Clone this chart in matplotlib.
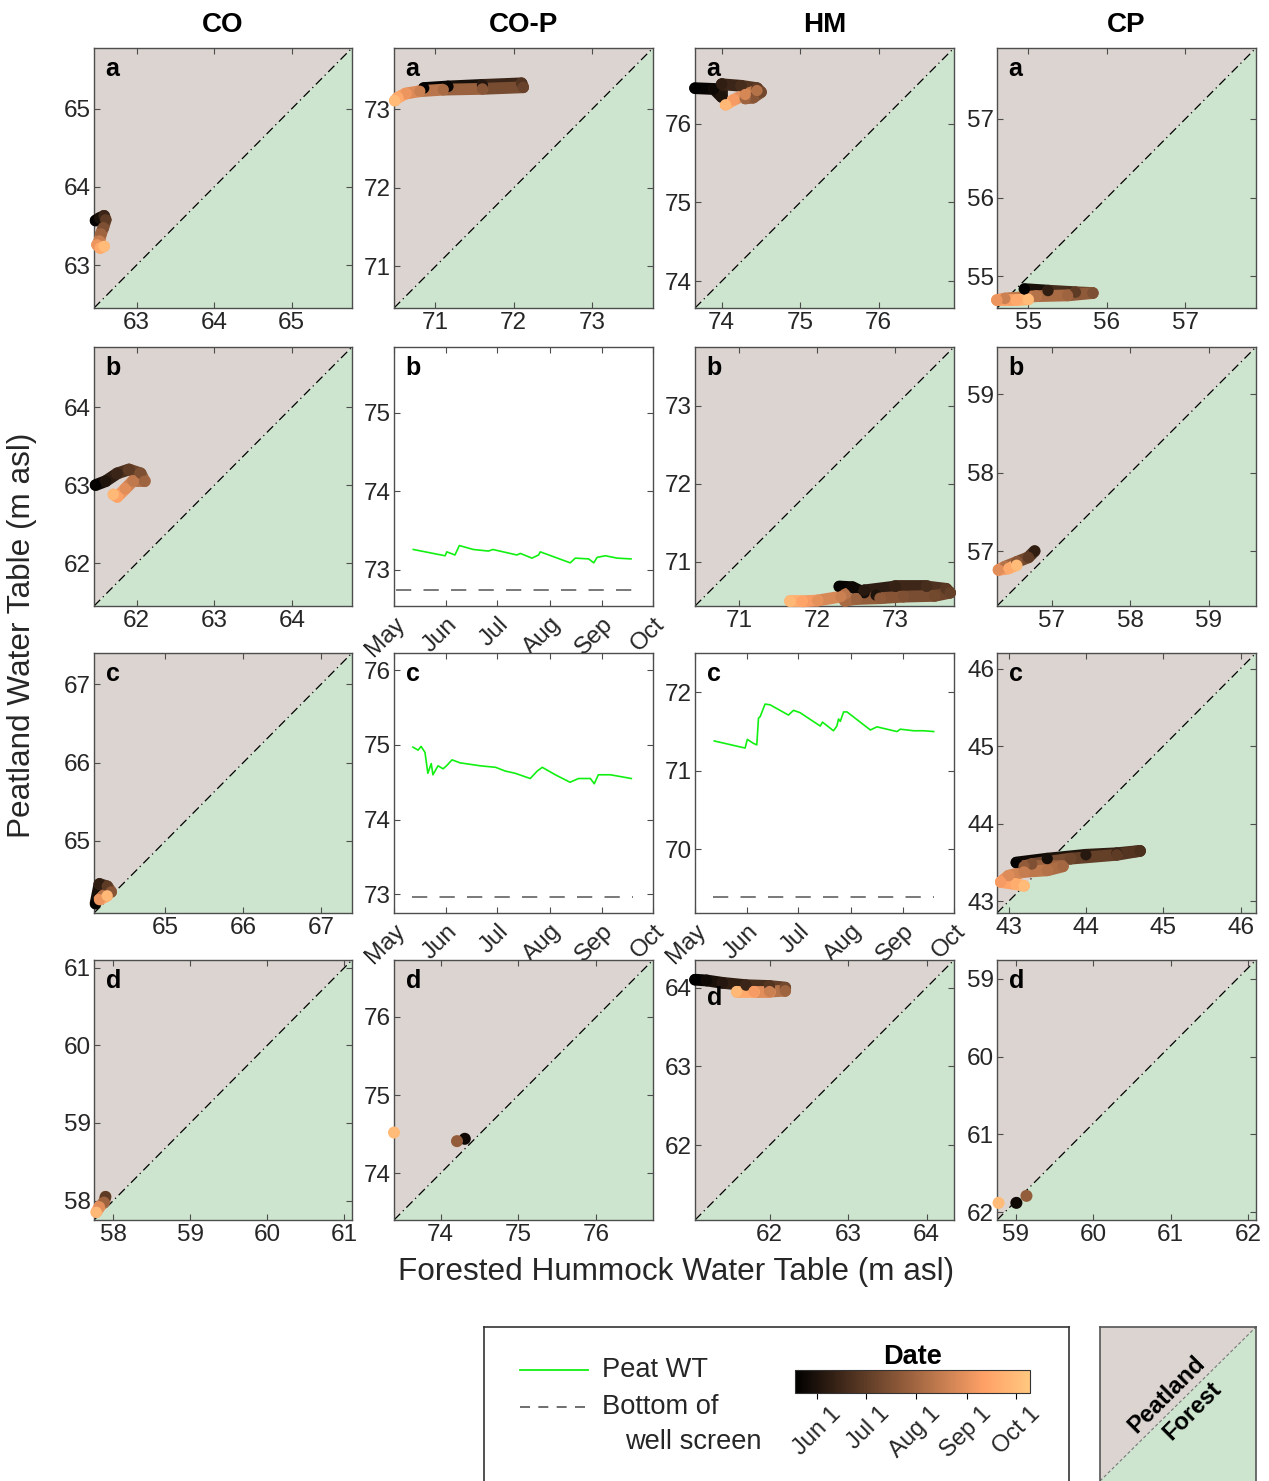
import numpy as np
import matplotlib
matplotlib.use("Agg")
import matplotlib.pyplot as plt
import matplotlib.transforms as mtransforms
from matplotlib.collections import LineCollection
from matplotlib.colors import Normalize
from matplotlib.cm import ScalarMappable

plt.rcParams['font.family'] = ['Liberation Sans', 'DejaVu Sans']

# ---------------------------------------------------------------- data
# Days are counted from May 1.
SITES = ['CO', 'CO-P', 'HM', 'CP']
ROWS = ['a', 'b', 'c', 'd']
MONTHS = ['May', 'Jun', 'Jul', 'Aug', 'Sep', 'Oct']
MONTH_DAYS = [0, 31, 61, 92, 123, 153]
CBAR_LABELS = ['Jun 1', 'Jul 1', 'Aug 1', 'Sep 1', 'Oct 1']

# forested hummock WT (x), peatland WT (y), day of each observation
CO_a_forest = [62.47, 62.52, 62.58, 62.60, 62.57, 62.54, 62.52, 62.49, 62.53, 62.58]
CO_a_peat = [63.57, 63.60, 63.63, 63.58, 63.48, 63.40, 63.31, 63.26, 63.22, 63.24]
CO_a_day = [20, 30, 45, 60, 75, 90, 108, 125, 140, 152]

COP_a_forest = [70.85, 71.16, 71.60, 72.10, 72.12, 71.60, 71.10, 70.80, 70.62, 70.52, 70.48]
COP_a_peat = [73.27, 73.29, 73.31, 73.33, 73.28, 73.26, 73.25, 73.23, 73.20, 73.15, 73.11]
COP_a_day = [18, 22, 35, 55, 65, 80, 95, 110, 125, 140, 152]

HM_a_forest = [73.66, 73.90, 74.00, 74.00, 74.25, 74.45, 74.50, 74.40, 74.30, 74.45, 74.30, 74.15, 74.05]
HM_a_peat = [76.45, 76.44, 76.34, 76.50, 76.48, 76.45, 76.40, 76.33, 76.32, 76.42, 76.37, 76.30, 76.24]
HM_a_day = [18, 25, 32, 40, 50, 60, 70, 80, 90, 100, 115, 130, 150]

CP_a_forest = [54.95, 55.25, 55.60, 55.82, 55.50, 55.10, 54.70, 54.60, 54.85, 55.00]
CP_a_peat = [54.84, 54.82, 54.80, 54.79, 54.76, 54.75, 54.72, 54.70, 54.70, 54.71]
CP_a_day = [18, 40, 60, 75, 90, 100, 110, 125, 140, 152]

CO_b_forest = [61.47, 61.60, 61.75, 61.90, 62.05, 62.10, 61.95, 61.85, 61.75, 61.70]
CO_b_peat = [63.00, 63.05, 63.15, 63.20, 63.15, 63.05, 63.05, 62.95, 62.85, 62.88]
CO_b_day = [20, 32, 45, 60, 75, 90, 105, 120, 135, 150]

HM_b_forest = [72.28, 72.45, 72.60, 72.75, 72.60, 73.00, 73.40, 73.65, 73.70, 73.50,
               73.10, 72.80, 72.50, 72.35, 72.35, 72.30, 72.00, 71.80, 71.65]
HM_b_peat = [70.68, 70.67, 70.60, 70.57, 70.63, 70.68, 70.68, 70.65, 70.60, 70.56,
             70.55, 70.53, 70.52, 70.50, 70.58, 70.55, 70.50, 70.49, 70.49]
HM_b_day = [20, 24, 28, 32, 36, 42, 50, 58, 64, 70, 76, 82, 88, 95, 102, 110, 122, 136, 150]

CP_b_forest = [56.78, 56.70, 56.55, 56.40, 56.32, 56.45, 56.55]
CP_b_peat = [57.00, 56.92, 56.86, 56.80, 56.76, 56.78, 56.82]
CP_b_day = [40, 60, 80, 100, 120, 140, 152]

CO_c_forest = [64.10, 64.15, 64.25, 64.30, 64.20, 64.15, 64.25]
CO_c_peat = [64.20, 64.45, 64.42, 64.35, 64.30, 64.25, 64.30]
CO_c_day = [20, 40, 60, 80, 100, 125, 150]

CP_c_forest = [43.10, 43.50, 44.00, 44.40, 44.70, 44.40, 43.80, 43.30, 43.20, 43.70,
               43.50, 43.20, 43.00, 42.90, 43.10, 43.20]
CP_c_peat = [43.50, 43.55, 43.60, 43.62, 43.65, 43.60, 43.55, 43.48, 43.45, 43.45,
             43.40, 43.38, 43.33, 43.25, 43.22, 43.20]
CP_c_day = [20, 28, 36, 44, 52, 60, 68, 76, 84, 92, 100, 108, 118, 130, 142, 152]

CO_d_forest = [57.90, 57.88, 57.82, 57.78]
CO_d_peat = [58.05, 57.98, 57.92, 57.85]
CO_d_day = [60, 90, 120, 150]

COP_d_forest = [74.31, 74.21, 73.40]
COP_d_peat = [74.44, 74.41, 74.52]
COP_d_day = [25, 85, 152]

HM_d_forest = [61.05, 61.20, 61.40, 61.70, 62.00, 62.20, 62.20, 62.00, 61.80, 61.58]
HM_d_peat = [64.10, 64.09, 64.06, 64.03, 64.02, 64.00, 63.96, 63.95, 63.95, 63.95]
HM_d_day = [18, 25, 35, 45, 55, 70, 90, 110, 130, 150]

CP_d_forest = [59.01, 59.14, 58.78]
CP_d_peat = [61.88, 61.79, 61.88]
CP_d_day = [25, 85, 152]

# peat water table time series
COP_b_day = [11.4, 30.2, 31.2, 36.0, 38.6, 46.9, 55.8, 58.4, 72.6, 74.6, 81.5,
             85.4, 86.4, 104.1, 107.1, 115.0, 118.0, 120.0, 124.9, 131.8, 140.0]
COP_b_wt = [73.26, 73.18, 73.23, 73.19, 73.31, 73.26, 73.24, 73.26, 73.19, 73.21, 73.15,
            73.19, 73.23, 73.09, 73.15, 73.14, 73.09, 73.16, 73.18, 73.15, 73.14]
COP_b_screen = 72.74
COP_b_screen_days = [1, 140.5]

COP_c_day = [11.2, 14.2, 16.0, 18.3, 20.0, 22.0, 23.0, 26.0, 29.0, 31.0, 34.3, 39.0,
             51.0, 60.0, 65.7, 71.6, 80.5, 84.6, 87.6, 95.3, 104.0, 109.0, 116.0,
             118.3, 120.7, 127.8, 140.2]
COP_c_wt = [74.97, 74.93, 74.98, 74.90, 74.62, 74.75, 74.60, 74.72, 74.68, 74.72, 74.80,
            74.76, 74.72, 74.70, 74.65, 74.62, 74.55, 74.65, 74.70, 74.60, 74.50, 74.55,
            74.55, 74.48, 74.60, 74.60, 74.55]
COP_c_screen = 72.96
COP_c_screen_days = [10.7, 141]

HM_c_day = [11.4, 29.6, 30.9, 34.5, 36.5, 37.5, 38.5, 41.4, 44.4, 55.2, 58.2, 62.1,
            74.0, 75.3, 81.8, 83.8, 84.8, 85.8, 87.8, 89.8, 103.6, 107.5, 111.4,
            119.3, 121.3, 129.2, 135.1, 141.0]
HM_c_wt = [71.38, 71.29, 71.40, 71.35, 71.33, 71.67, 71.69, 71.85, 71.84, 71.71, 71.77,
           71.74, 71.57, 71.62, 71.51, 71.57, 71.66, 71.63, 71.75, 71.75, 71.52, 71.56,
           71.54, 71.50, 71.53, 71.51, 71.51, 71.50]
HM_c_screen = 69.39
HM_c_screen_days = [10.7, 141]

SCATTER = {
    ('CO', 'a'): (CO_a_forest, CO_a_peat, CO_a_day),
    ('CO-P', 'a'): (COP_a_forest, COP_a_peat, COP_a_day),
    ('HM', 'a'): (HM_a_forest, HM_a_peat, HM_a_day),
    ('CP', 'a'): (CP_a_forest, CP_a_peat, CP_a_day),
    ('CO', 'b'): (CO_b_forest, CO_b_peat, CO_b_day),
    ('HM', 'b'): (HM_b_forest, HM_b_peat, HM_b_day),
    ('CP', 'b'): (CP_b_forest, CP_b_peat, CP_b_day),
    ('CO', 'c'): (CO_c_forest, CO_c_peat, CO_c_day),
    ('CP', 'c'): (CP_c_forest, CP_c_peat, CP_c_day),
    ('CO', 'd'): (CO_d_forest, CO_d_peat, CO_d_day),
    ('CO-P', 'd'): (COP_d_forest, COP_d_peat, COP_d_day),
    ('HM', 'd'): (HM_d_forest, HM_d_peat, HM_d_day),
    ('CP', 'd'): (CP_d_forest, CP_d_peat, CP_d_day),
}
SERIES = {
    ('CO-P', 'b'): (COP_b_day, COP_b_wt, COP_b_screen, COP_b_screen_days),
    ('CO-P', 'c'): (COP_c_day, COP_c_wt, COP_c_screen, COP_c_screen_days),
    ('HM', 'c'): (HM_c_day, HM_c_wt, HM_c_screen, HM_c_screen_days),
}

# axis ranges (x and y share the same range in the comparison panels)
LIMITS = {
    ('CO', 'a'): (62.45, 65.78), ('CO-P', 'a'): (70.47, 73.78),
    ('HM', 'a'): (73.66, 76.96), ('CP', 'a'): (54.60, 57.90),
    ('CO', 'b'): (61.45, 64.77), ('HM', 'b'): (70.43, 73.75),
    ('CP', 'b'): (56.30, 59.60), ('CO', 'c'): (64.08, 67.40),
    ('CP', 'c'): (42.85, 46.20), ('CO', 'd'): (57.75, 61.10),
    ('CO-P', 'd'): (73.40, 76.73), ('HM', 'd'): (61.05, 64.35),
    ('CP', 'd'): (58.76, 62.10),
    ('CO-P', 'b'): (72.54, 75.84), ('CO-P', 'c'): (72.75, 76.23),
    ('HM', 'c'): (69.19, 72.50),
}
INVERTED_Y = {('CP', 'd')}

# ---------------------------------------------------------------- style
W, H = 1269, 1481
PEAT_BG = '#DCD4D0'
FOREST_BG = '#CDE5CF'
SPINE = '#4D4D4D'
TXT = '#262626'
GREEN = '#11F011'
SCREEN = '#555555'
CMAP = plt.get_cmap('copper')
NORM = Normalize(vmin=17.7, vmax=161.5)

COL_X = [(94, 352), (394, 653), (695, 954), (997, 1256)]
ROW_Y = [(48, 308), (347, 606), (653, 913), (960, 1220)]

fig = plt.figure(figsize=(W / 100, H / 100), dpi=100)


def box(x0, y0, x1, y1):
    return [x0 / W, 1 - y1 / H, (x1 - x0) / W, (y1 - y0) / H]


def style_axes(ax):
    for s in ax.spines.values():
        s.set_color(SPINE)
        s.set_linewidth(1.0)
    ax.tick_params(direction='in', top=True, right=True, length=4, width=0.8,
                   color=SPINE, labelsize=17.5, labelcolor=TXT, pad=2)


def split_background(ax):
    ax.fill([0, 0, 1], [0, 1, 1], transform=ax.transAxes, color=PEAT_BG,
            zorder=0, lw=0)
    ax.fill([0, 1, 1], [0, 0, 1], transform=ax.transAxes, color=FOREST_BG,
            zorder=0, lw=0)
    ax.plot([0, 1], [0, 1], transform=ax.transAxes, color='k', lw=0.9,
            ls=(0, (7, 3, 1, 3)), zorder=1)


def draw_track(ax, xs, ys, days, single=False):
    xs, ys, days = map(np.asarray, (xs, ys, days))
    if not single:
        pts = np.column_stack([xs, ys])
        segs = np.stack([pts[:-1], pts[1:]], axis=1)
        mid = (days[:-1] + days[1:]) / 2
        lc = LineCollection(segs, colors=CMAP(NORM(mid)), linewidths=8.5,
                            capstyle='round', joinstyle='round', zorder=3,
                            clip_on=False)
        ax.add_collection(lc)
        ax.scatter(xs, ys, c=days, cmap=CMAP, norm=NORM, s=65,
                   edgecolors='none', zorder=4, clip_on=False)
    else:
        ax.scatter(xs, ys, c=days, cmap=CMAP, norm=NORM, s=75,
                   edgecolors='none', zorder=4, clip_on=False)


for ci, site in enumerate(SITES):
    for ri, row in enumerate(ROWS):
        key = (site, row)
        x0, x1 = COL_X[ci]
        y0, y1 = ROW_Y[ri]
        ax = fig.add_axes(box(x0, y0, x1, y1))
        style_axes(ax)
        lo, hi = LIMITS[key]
        ticks = list(range(int(np.ceil(lo)), int(np.floor(hi)) + 1))
        if key in SERIES:
            d, wt, scr, scr_days = SERIES[key]
            ax.plot(d, wt, color=GREEN, lw=1.2, zorder=3)
            ax.plot(scr_days, [scr, scr], color=SCREEN, lw=1.1,
                    ls=(0, (10, 8)), zorder=2)
            ax.set_xlim(MONTH_DAYS[0], MONTH_DAYS[-1])
            ax.set_ylim(lo, hi)
            ax.set_yticks(ticks)
            ax.set_xticks(MONTH_DAYS)
            ax.set_xticklabels(MONTHS, rotation=45, ha='right', va='top',
                               rotation_mode='anchor')
            ax.tick_params(axis='x', pad=5)
        else:
            split_background(ax)
            fx, py, dd = SCATTER[key]
            draw_track(ax, fx, py, dd, single=(row == 'd' and site in ('CO-P', 'CP')))
            ax.set_xlim(lo, hi)
            if key in INVERTED_Y:
                ax.set_ylim(hi, lo)
            else:
                ax.set_ylim(lo, hi)
            ax.set_xticks(ticks)
            ax.set_yticks(ticks)
            ax.tick_params(axis='x', pad=3)
        ly = 0.854 if key == ('HM', 'd') else 0.918
        ax.text(0.045, ly, row, transform=ax.transAxes, fontsize=18,
                fontweight='bold', ha='left', va='center', zorder=6)
    fig.text((COL_X[ci][0] + COL_X[ci][1]) / 2 / W, 1 - 25 / H, site,
             ha='center', va='center', fontsize=20, fontweight='bold')

fig.text(676 / W, 1 - 1272 / H, 'Forested Hummock Water Table (m asl)',
         ha='center', va='center', fontsize=22.7, color=TXT)
fig.text(22 / W, 1 - 635 / H, 'Peatland Water Table (m asl)', rotation=90,
         ha='center', va='center', fontsize=22.7, color=TXT)

# ---------------------------------------------------------------- legend box
leg = fig.add_axes(box(484, 1327, 1069, 1481))
leg.set_xlim(0, 1)
leg.set_ylim(0, 1)
leg.set_xticks([])
leg.set_yticks([])
for name, s in leg.spines.items():
    s.set_color('#333333')
    s.set_linewidth(1.2)
leg.spines['bottom'].set_visible(False)
leg.plot([0.0615, 0.178], [0.72, 0.72], color=GREEN, lw=1.3)
leg.text(0.202, 0.72, 'Peat WT', fontsize=19.6, va='center', ha='left', color=TXT)
leg.plot([0.0615, 0.178], [0.48, 0.48], color=SCREEN, lw=1.2, ls=(0, (6, 5)))
leg.text(0.202, 0.48, 'Bottom of', fontsize=19.6, va='center', ha='left', color=TXT)
leg.text(0.241, 0.253, 'well screen', fontsize=19.6, va='center', ha='left', color=TXT)

cax = fig.add_axes(box(795, 1370, 1030, 1393))
cb = fig.colorbar(ScalarMappable(norm=NORM, cmap=CMAP), cax=cax,
                  orientation='horizontal', ticks=MONTH_DAYS[1:])
cb.outline.set_linewidth(0.8)
cb.outline.set_edgecolor('#333333')
cax.set_xticklabels(CBAR_LABELS, rotation=45, ha='right', va='top',
                    rotation_mode='anchor', fontsize=17, color=TXT)
cax.tick_params(axis='x', direction='out', length=4, width=0.8, pad=3)
shift = mtransforms.ScaledTranslation(0.13, 0, fig.dpi_scale_trans)
for lab in cax.get_xticklabels():
    lab.set_transform(lab.get_transform() + shift)
cax.set_title('Date', fontsize=19.5, fontweight='bold', pad=3)

# ---------------------------------------------------------------- region key
key_ax = fig.add_axes(box(1100, 1327, 1256, 1481))
key_ax.set_xlim(0, 1)
key_ax.set_ylim(0, 1)
key_ax.set_xticks([])
key_ax.set_yticks([])
key_ax.fill([0, 0, 1], [0, 1, 1], color=PEAT_BG, lw=0)
key_ax.fill([0, 1, 1], [0, 0, 1], color=FOREST_BG, lw=0)
key_ax.plot([0, 1], [0, 1], color='#777777', lw=0.8, ls=(0, (3, 2)))
for s in key_ax.spines.values():
    s.set_color('#555555')
    s.set_linewidth(1.2)
key_ax.spines['bottom'].set_visible(False)
key_ax.text(0.43, 0.56, 'Peatland', rotation=45, fontsize=17, fontweight='bold',
            ha='center', va='center')
key_ax.text(0.59, 0.455, 'Forest', rotation=45, fontsize=17, fontweight='bold',
            ha='center', va='center')

fig.savefig('out.png', dpi=100)
